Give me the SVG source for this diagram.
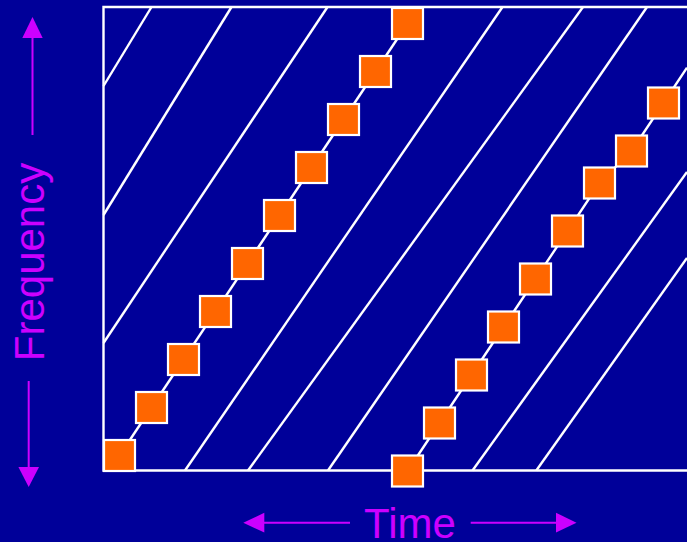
<svg xmlns="http://www.w3.org/2000/svg" width="687" height="542" viewBox="0 0 687 542">
<style>
.ln{stroke:#fff;stroke-width:2.4;fill:none}
.sq{fill:#FF6600;stroke:#fff;stroke-width:2.2}
.lbl{font-family:"Liberation Sans",Arial,sans-serif;font-size:42px;fill:#CC00FF}
.ax{stroke:#CC00FF;stroke-width:2;fill:none}
.ah{fill:#CC00FF}
</style>
<defs>
<rect id="s" class="sq" x="-15.5" y="-15.5" width="31" height="31"/>
</defs>
<rect width="687" height="542" fill="#000099"/>
<g id="frame">
<path class="ln" d="M687,7 H103.5 V470.5 H687"/>
</g>
<g id="connectors">
<line class="ln" x1="103.5" y1="86" x2="151.5" y2="7"/>
<line class="ln" x1="103.5" y1="215" x2="231.5" y2="7"/>
<line class="ln" x1="103.5" y1="343" x2="327.5" y2="7"/>
<line class="ln" x1="185" y1="470.5" x2="502.5" y2="7"/>
<line class="ln" x1="248" y1="470.5" x2="583" y2="7"/>
<line class="ln" x1="328" y1="470.5" x2="647" y2="7"/>
<line class="ln" x1="472.5" y1="470.5" x2="687" y2="172"/>
<line class="ln" x1="536.3" y1="470.5" x2="687" y2="258"/>
<polyline class="ln" points="119.5,455.5 407.5,23.5"/>
<polyline class="ln" points="407.5,471 599.5,183 631.5,151 663.5,103 687,67.7"/>
</g>
<g id="hop1">
<g id="h1-0"><use href="#s" x="119.5" y="455.5"/></g>
<g id="h1-1"><use href="#s" x="151.5" y="407.5"/></g>
<g id="h1-2"><use href="#s" x="183.5" y="359.5"/></g>
<g id="h1-3"><use href="#s" x="215.5" y="311.5"/></g>
<g id="h1-4"><use href="#s" x="247.5" y="263.5"/></g>
<g id="h1-5"><use href="#s" x="279.5" y="215.5"/></g>
<g id="h1-6"><use href="#s" x="311.5" y="167.5"/></g>
<g id="h1-7"><use href="#s" x="343.5" y="119.5"/></g>
<g id="h1-8"><use href="#s" x="375.5" y="71.5"/></g>
<g id="h1-9"><use href="#s" x="407.5" y="23.5"/></g>
</g>
<g id="hop2">
<g id="h2-0"><use href="#s" x="407.5" y="471"/></g>
<g id="h2-1"><use href="#s" x="439.5" y="423"/></g>
<g id="h2-2"><use href="#s" x="471.5" y="375"/></g>
<g id="h2-3"><use href="#s" x="503.5" y="327"/></g>
<g id="h2-4"><use href="#s" x="535.5" y="279"/></g>
<g id="h2-5"><use href="#s" x="567.5" y="231"/></g>
<g id="h2-6"><use href="#s" x="599.5" y="183"/></g>
<g id="h2-7"><use href="#s" x="631.5" y="151"/></g>
<g id="h2-8"><use href="#s" x="663.5" y="103"/></g>
</g>
<g id="freq-axis">
<line class="ax" x1="32.5" y1="135" x2="32.5" y2="36"/>
<polygon class="ah" points="32.5,17 22.3,38 42.7,38"/>
<line class="ax" x1="28.7" y1="381" x2="28.7" y2="468"/>
<polygon class="ah" points="28.7,487 18.4,467 39,467"/>
<text class="lbl" transform="translate(43.5,262) rotate(-90)" text-anchor="middle">Frequency</text>
</g>
<g id="time-axis">
<line class="ax" x1="263" y1="522.7" x2="350" y2="522.7"/>
<polygon class="ah" points="243.3,522.7 264.3,512.8 264.3,532.6"/>
<line class="ax" x1="470.7" y1="522.7" x2="557" y2="522.7"/>
<polygon class="ah" points="576.5,522.7 556,512.8 556,532.6"/>
<text class="lbl" x="410" y="538.4" text-anchor="middle">Time</text>
</g>
</svg>
